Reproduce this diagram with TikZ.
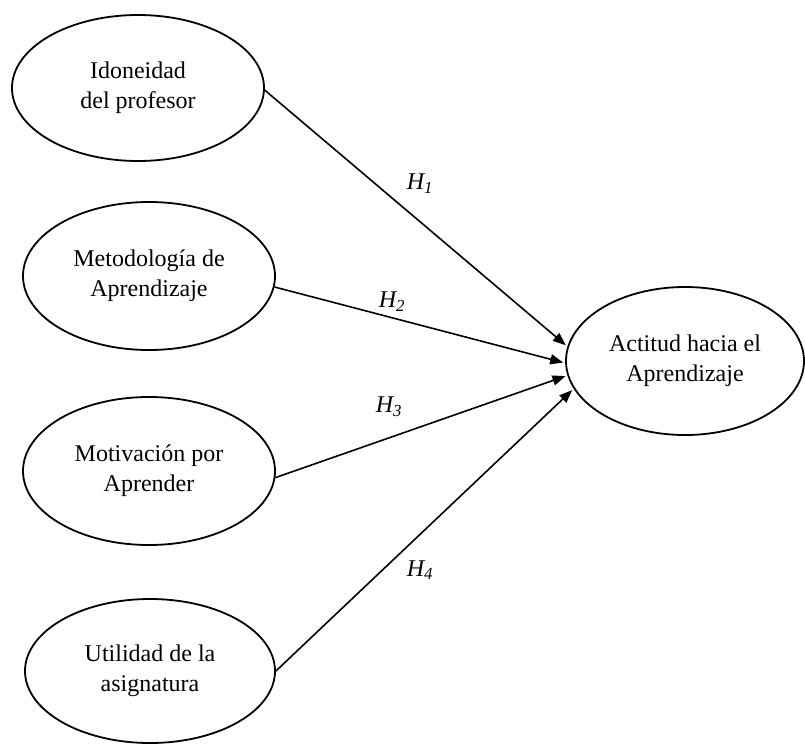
\documentclass[tikz,border=0pt]{standalone}
\usepackage{fontspec}
\setmainfont{Liberation Serif}
\usetikzlibrary{arrows.meta,shapes.geometric}
\begin{document}
\begin{tikzpicture}[x=1pt,y=-1pt,
  construct/.style={draw, ellipse, line width=1.8pt, inner sep=0pt, align=center,
    font=\fontsize{24}{30}\selectfont},
  conn/.style={line width=1.6pt, -{Triangle[length=13pt,width=10pt]}, shorten >=2pt},
  hyp/.style={font=\fontsize{24}{30}\selectfont\itshape, inner sep=0pt}
]
\useasboundingbox (0,0) rectangle (805,744);
\node[construct, minimum width=252pt, minimum height=146pt] (A) at (138,88) {Idoneidad\\del profesor};
\node[construct, minimum width=252pt, minimum height=148pt] (B) at (149,276) {Metodología de\\Aprendizaje};
\node[construct, minimum width=252pt, minimum height=148pt] (C) at (149,471) {Motivación por\\Aprender};
\node[construct, minimum width=250pt, minimum height=144pt] (D) at (150,671) {Utilidad de la\\asignatura};
\node[construct, minimum width=238pt, minimum height=148pt] (T) at (685,361) {Actitud hacia el\\Aprendizaje};
\draw[conn] (A.-1) -- (T.173);
\draw[conn] (B.-5.5) -- (T.181);
\draw[conn] (C.-3) -- (T.187.5);
\draw[conn] (D.0) -- (T.194);
\node[hyp] (h1) at (420,184) {H\textsubscript{1}};
\node[hyp] (h2) at (392,302) {H\textsubscript{2}};
\node[hyp] (h3) at (389,407) {H\textsubscript{3}};
\node[hyp] (h4) at (420,570) {H\textsubscript{4}};
\end{tikzpicture}
\end{document}
